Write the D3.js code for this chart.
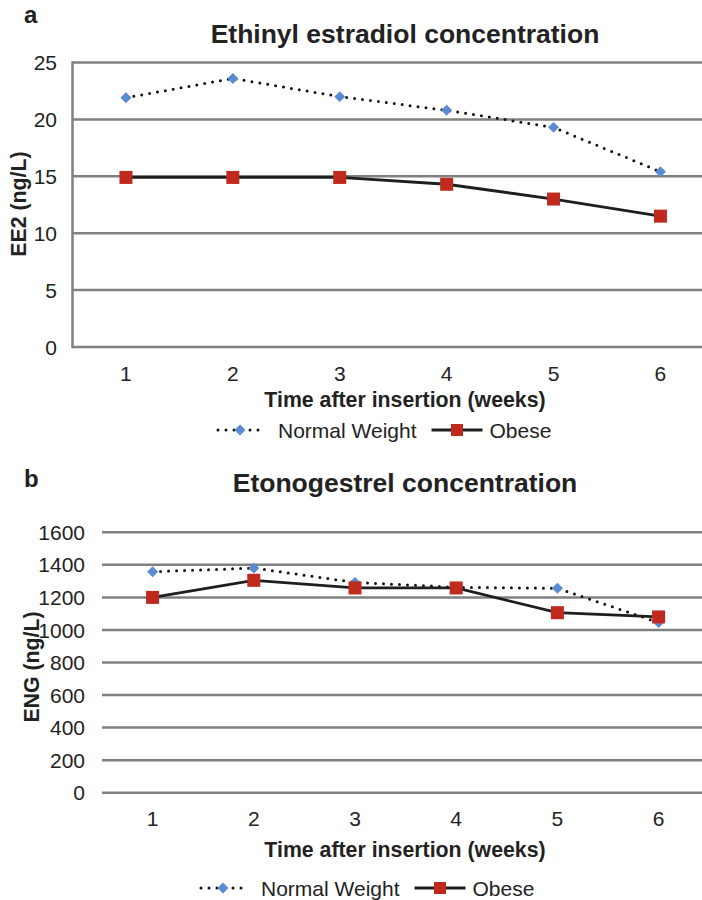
<!DOCTYPE html>
<html>
<head>
<meta charset="utf-8">
<script src="https://cdn.jsdelivr.net/npm/d3@7"></script>
<style>
  body { margin: 0; background: #fff; }
  text { font-family: "Liberation Sans", Arial, sans-serif; fill: #222; }
  .panel-letter { font-size: 24px; font-weight: bold; }
  .chart-title { font-size: 26.5px; font-weight: bold; }
  .axis-title { font-size: 21.3px; font-weight: bold; }
  .tick-label { font-size: 21px; }
  .legend-text { font-size: 21px; }
</style>
</head>
<body>
<svg id="chart"></svg>
<script>
const weeks = [1, 2, 3, 4, 5, 6];

// panel a: ethinyl estradiol (ng/L)
const ee2Ticks = [0, 5, 10, 15, 20, 25];
const ee2Normal = [21.9, 23.6, 22.0, 20.8, 19.3, 15.4];
const ee2Obese = [14.9, 14.9, 14.9, 14.3, 13.0, 11.5];

// panel b: etonogestrel (ng/L)
const engTicks = [0, 200, 400, 600, 800, 1000, 1200, 1400, 1600];
const engNormal = [1358, 1380, 1292, 1262, 1256, 1046];
const engObese = [1200, 1305, 1258, 1258, 1106, 1080];

const seriesNames = ["Normal Weight", "Obese"];

const width = 702;
const height = 900;

const blue = "#5a8ad0";
const red = "#c0291e";
const gridColor = "#808080";

const svg = d3.select("#chart").attr("width", width).attr("height", height);
svg.append("rect").attr("width", width).attr("height", height).attr("fill", "#fff");

// excel style diamond = square turned 45deg
const diamond = d3.symbol().type(d3.symbolSquare).size(60);

const drawPanel = (opt) => {
  const g = svg.append("g");

  const x = d3
    .scaleBand()
    .domain(weeks)
    .range([opt.left, opt.left + opt.band * weeks.length]);
  const cx = (w) => x(w) + x.bandwidth() / 2;

  const y = d3
    .scaleLinear()
    .domain([0, d3.max(opt.ticks)])
    .range([opt.bottom, opt.top]);

  // gridlines
  g.append("g")
    .selectAll("line")
    .data(opt.ticks)
    .join("line")
    .attr("x1", opt.left)
    .attr("x2", width)
    .attr("y1", (d) => y(d))
    .attr("y2", (d) => y(d))
    .attr("stroke", gridColor)
    .attr("stroke-width", 2.5);

  if (opt.axisLine) {
    g.append("line")
      .attr("x1", opt.left)
      .attr("x2", opt.left)
      .attr("y1", y(d3.max(opt.ticks)) - 1.25)
      .attr("y2", y(0) + 1.25)
      .attr("stroke", gridColor)
      .attr("stroke-width", 2.5);
  }

  // y tick labels
  g.append("g")
    .selectAll("text")
    .data(opt.ticks)
    .join("text")
    .attr("x", opt.tickRight)
    .attr("y", (d) => y(d))
    .attr("dy", "0.36em")
    .attr("text-anchor", "end")
    .classed("tick-label", true)
    .text((d) => d);

  // x tick labels
  g.append("g")
    .selectAll("text")
    .data(weeks)
    .join("text")
    .attr("x", (d) => cx(d))
    .attr("y", opt.xTickY)
    .attr("text-anchor", "middle")
    .classed("tick-label", true)
    .text((d) => d);

  g.append("text")
    .attr("x", 24)
    .attr("y", opt.letterY)
    .classed("panel-letter", true)
    .text(opt.letter);

  g.append("text")
    .attr("x", 405)
    .attr("y", opt.titleY)
    .attr("text-anchor", "middle")
    .classed("chart-title", true)
    .text(opt.title);

  g.append("text")
    .attr("x", 405)
    .attr("y", opt.xTitleY)
    .attr("text-anchor", "middle")
    .classed("axis-title", true)
    .text("Time after insertion (weeks)");

  g.append("text")
    .attr("transform", `translate(${opt.yTitleX},${opt.yTitleY}) rotate(-90)`)
    .attr("text-anchor", "middle")
    .classed("axis-title", true)
    .text(opt.yTitle);

  const line = d3
    .line()
    .x((d, i) => cx(weeks[i]))
    .y((d) => y(d));

  // normal weight: dotted + diamonds
  g.append("path")
    .attr("d", line(opt.normal))
    .attr("fill", "none")
    .attr("stroke", "#111")
    .attr("stroke-width", 3)
    .attr("stroke-linecap", "round")
    .attr("stroke-dasharray", "0,8");
  g.append("g")
    .selectAll("path")
    .data(opt.normal)
    .join("path")
    .attr("d", diamond)
    .attr("transform", (d, i) => `translate(${cx(weeks[i])},${y(d)}) rotate(45)`)
    .attr("fill", blue);

  // obese: solid + squares
  g.append("path")
    .attr("d", line(opt.obese))
    .attr("fill", "none")
    .attr("stroke", "#1e1e1e")
    .attr("stroke-width", 2.8);
  g.append("g")
    .selectAll("rect")
    .data(opt.obese)
    .join("rect")
    .attr("x", (d, i) => cx(weeks[i]) - 6.5)
    .attr("y", (d) => y(d) - 6.5)
    .attr("width", 13)
    .attr("height", 13)
    .attr("fill", red);

  // legend
  const legend = g.append("g").attr("transform", `translate(${opt.legendX},${opt.legendY})`);
  legend
    .append("line")
    .attr("x1", 0).attr("x2", 46)
    .attr("stroke", "#111")
    .attr("stroke-width", 3)
    .attr("stroke-linecap", "round")
    .attr("stroke-dasharray", "0,8");
  legend
    .append("path")
    .attr("d", diamond)
    .attr("transform", "translate(22,0) rotate(45)")
    .attr("fill", blue);
  const t1 = legend
    .append("text")
    .attr("x", 60)
    .attr("dy", "0.36em")
    .classed("legend-text", true)
    .text(seriesNames[0]);
  const x2 = 60 + t1.node().getComputedTextLength() + 15;
  legend
    .append("line")
    .attr("x1", x2).attr("x2", x2 + 51)
    .attr("stroke", "#1e1e1e")
    .attr("stroke-width", 2.8);
  legend
    .append("rect")
    .attr("x", x2 + 25.5 - 6)
    .attr("y", -6)
    .attr("width", 12)
    .attr("height", 12)
    .attr("fill", red);
  legend
    .append("text")
    .attr("x", x2 + 58)
    .attr("dy", "0.36em")
    .classed("legend-text", true)
    .text(seriesNames[1]);
};

drawPanel({
  letter: "a",
  letterY: 23,
  title: "Ethinyl estradiol concentration",
  titleY: 43,
  yTitle: "EE2 (ng/L)",
  yTitleX: 26,
  yTitleY: 204,
  ticks: ee2Ticks,
  normal: ee2Normal,
  obese: ee2Obese,
  left: 72.5,
  band: 106.9,
  top: 62.5,
  bottom: 347,
  axisLine: true,
  tickRight: 57,
  xTickY: 381,
  xTitleY: 407,
  legendX: 218,
  legendY: 430,
});

drawPanel({
  letter: "b",
  letterY: 487,
  title: "Etonogestrel concentration",
  titleY: 492,
  yTitle: "ENG (ng/L)",
  yTitleX: 39,
  yTitleY: 667,
  ticks: engTicks,
  normal: engNormal,
  obese: engObese,
  left: 102,
  band: 101.2,
  top: 532.3,
  bottom: 792.7,
  axisLine: false,
  tickRight: 85,
  xTickY: 826,
  xTitleY: 857,
  legendX: 201,
  legendY: 888,
});
</script>
</body>
</html>
